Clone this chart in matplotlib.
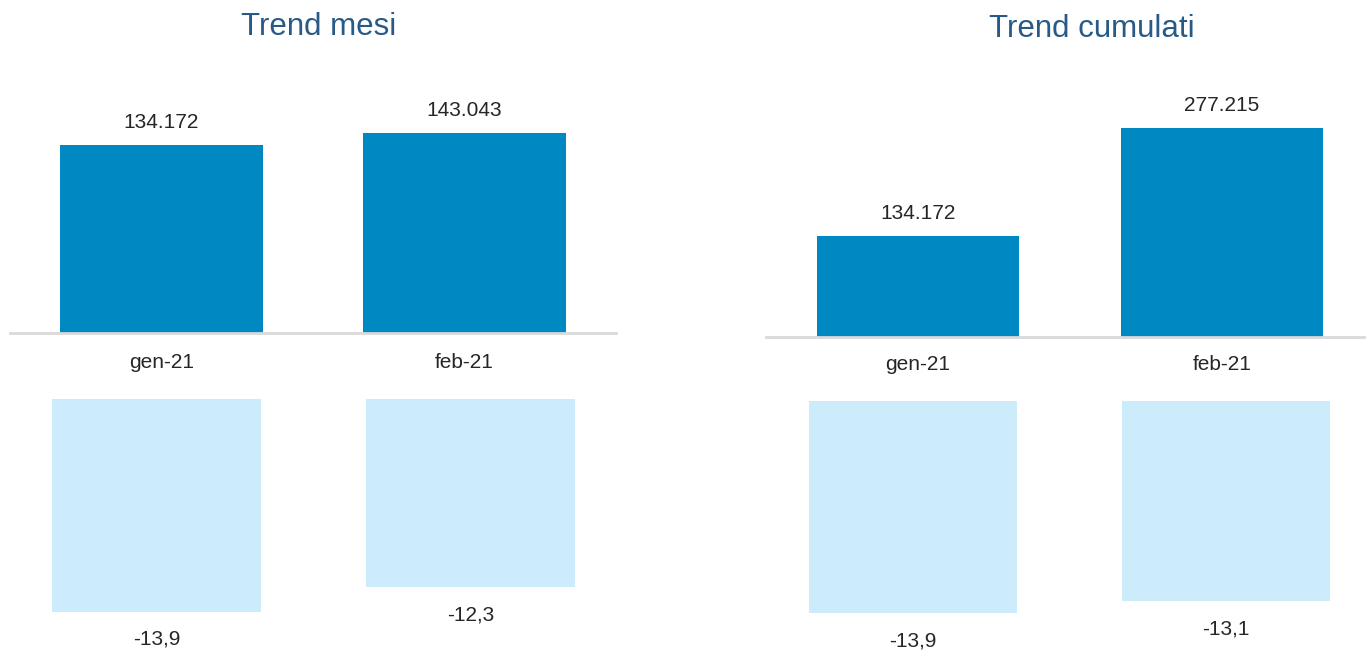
import matplotlib.pyplot as plt
import matplotlib.transforms as mtransforms

plt.rcParams['font.family'] = ['Liberation Sans', 'DejaVu Sans']

# data
mesi = ['gen-21', 'feb-21']
trend_mesi = [134172, 143043]
trend_cumulati = [134172, 277215]
var_mesi = [-13.9, -12.3]
var_cumulati = [-13.9, -13.1]

dark_blue = '#0088C2'
light_blue = '#CCECFC'
title_col = '#285A88'
text_col = '#262626'

W, H = 1366, 650
fig = plt.figure(figsize=(W / 100, H / 100), dpi=100)


def px_axes(left, top, width, height):
    # axes placed by pixel box (origin top-left)
    return fig.add_axes([left / W, (H - top - height) / H, width / W, height / H])


def shift(ax, dy_px):
    return mtransforms.offset_copy(ax.transData, fig=fig, x=0, y=dy_px * 0.72, units='points')


def fmt_it(v):
    return f'{v:,}'.replace(',', '.')


def top_panel(ax, values, ymax, cat_gap):
    x = range(len(values))
    ax.bar(x, values, width=0.667, color=dark_blue)
    ax.set_xlim(-0.5, 1.5)
    ax.set_ylim(0, ymax)
    ax.axhline(0, color='#D9D9D9', lw=2, clip_on=False)
    for xi, v, lab in zip(x, values, mesi):
        ax.text(xi, v, fmt_it(v), transform=shift(ax, 16.5), ha='center', va='baseline',
                fontsize=15, color=text_col)
        ax.text(xi, 0, lab, transform=shift(ax, -cat_gap), ha='center', va='baseline',
                fontsize=15, color=text_col, clip_on=False)
    ax.axis('off')


def bottom_panel(ax, values, ymin):
    x = range(len(values))
    ax.bar(x, values, width=0.663, color=light_blue)
    ax.set_xlim(-0.5, 1.5)
    ax.set_ylim(ymin, 0)
    for xi, v in zip(x, values):
        ax.text(xi, v, f'{v:.1f}'.replace('.', ','), transform=shift(ax, -33), ha='center',
                va='baseline', fontsize=15, color=text_col, clip_on=False)
    ax.axis('off')


# left: Trend mesi
ax1 = px_axes(10, 60, 606, 273)
top_panel(ax1, trend_mesi, 194830, 35)
ax2 = px_axes(-0.5, 399, 628, 251)
bottom_panel(ax2, var_mesi, -16.4)

# right: Trend cumulati
ax3 = px_axes(766, 60, 608, 277)
top_panel(ax3, trend_cumulati, 367400, 33)
ax4 = px_axes(756, 401, 627, 249)
bottom_panel(ax4, var_cumulati, -16.3)

fig.text(319 / W, 1 - 35 / H, 'Trend mesi', ha='center', va='baseline',
         fontsize=22.5, color=title_col)
fig.text(1092 / W, 1 - 37 / H, 'Trend cumulati', ha='center', va='baseline',
         fontsize=22.5, color=title_col)

fig.savefig('out.png', dpi=100)
